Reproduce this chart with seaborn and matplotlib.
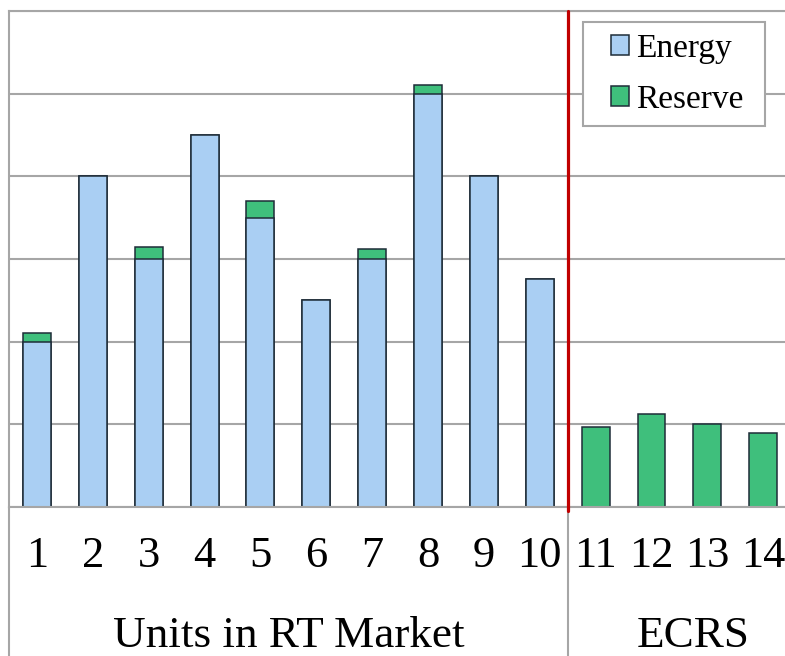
import numpy as np
import pandas as pd
import matplotlib.pyplot as plt
from matplotlib.patches import Patch, Rectangle
from matplotlib.lines import Line2D
import seaborn as sns

units = [str(u) for u in range(1, 15)]
energy = [2.0, 4.0, 3.0, 4.5, 3.5, 2.5, 3.0, 5.0, 4.0, 2.76, 0, 0, 0, 0]
reserve = [0.1, 0, 0.15, 0, 0.2, 0, 0.12, 0.11, 0, 0, 0.97, 1.12, 1.0, 0.9]
groups = ["Units in RT Market", "ECRS"]

df = pd.DataFrame({"unit": units, "energy": energy, "reserve": reserve})
df["total"] = df["energy"] + df["reserve"]

sns.set_style("white")
plt.rcParams["font.family"] = ["Liberation Serif", "DejaVu Serif"]
plt.rcParams["text.color"] = "black"
plt.rcParams["xtick.color"] = "black"

blue = "#aacff3"
green = "#3fbf7c"
edge = "#1e2c38"
grey = "#a6a6a6"

W, H = 785, 656
fig = plt.figure(figsize=(W / 100, H / 100), dpi=100)
ax = fig.add_axes([9 / W, (H - 507) / H, (W - 9) / W, 496 / H])

# green = total, blue energy on top of it -> stacked look
sns.barplot(data=df, x="unit", y="total", order=units, color=green, saturation=1,
            width=0.5, edgecolor=edge, linewidth=1.1, errorbar=None, ax=ax)
sns.barplot(data=df, x="unit", y="energy", order=units, color=blue, saturation=1,
            width=0.5, edgecolor=edge, linewidth=1.1, errorbar=None, ax=ax)

ax.set_xlim(-0.5, 13.39)
ax.set_ylim(0, 6)
ax.set_yticks(np.arange(0, 7, 1))
ax.set_yticklabels([])
ax.yaxis.grid(True, color=grey, linewidth=1.5)
ax.set_axisbelow(True)
ax.set_xlabel("")
ax.set_ylabel("")
ax.tick_params(axis="both", length=0)
ax.tick_params(axis="x", labelsize=32, pad=21, labelcolor="black")
for s in ax.spines.values():
    s.set_color(grey)
    s.set_linewidth(1.5)
ax.spines["right"].set_visible(False)

# red separator between market units and ECRS
ax.plot([9.5, 9.5], [-0.05, 6], color="#c00000", linewidth=2.3, zorder=5, clip_on=False)

# lines below the axis down to figure bottom
for xv, tr in [(0, ax.transAxes), (9.5, ax.get_xaxis_transform())]:
    ax.add_line(Line2D([xv, xv], [0, -0.31], transform=tr, color=grey,
                       linewidth=1.5, clip_on=False))

xt = ax.get_xaxis_transform()
ax.text(4.5, -0.26, groups[0], transform=xt, ha="center", va="center", fontsize=32.5)
ax.text(11.75, -0.26, groups[1], transform=xt, ha="center", va="center", fontsize=32.5)

# legend frame drawn by hand to get the wide padding
ax.add_patch(Rectangle((583 / W, 1 - 126 / H), 182 / W, 104 / H, transform=fig.transFigure,
                       facecolor="white", edgecolor=grey, linewidth=1.5,
                       zorder=4, clip_on=False))
handles = [Patch(facecolor=blue, edgecolor=edge, linewidth=1.1, label="Energy"),
           Patch(facecolor=green, edgecolor=edge, linewidth=1.1, label="Reserve")]
leg = ax.legend(handles=handles, loc="center left",
                bbox_to_anchor=(611 / W, 1 - 74 / H), bbox_transform=fig.transFigure,
                fontsize=24, frameon=False, handlelength=0.55, handleheight=0.55,
                handletextpad=0.2, borderpad=0, labelspacing=0.6, borderaxespad=0)
leg.set_zorder(6)

fig.savefig("out.png", dpi=100)
